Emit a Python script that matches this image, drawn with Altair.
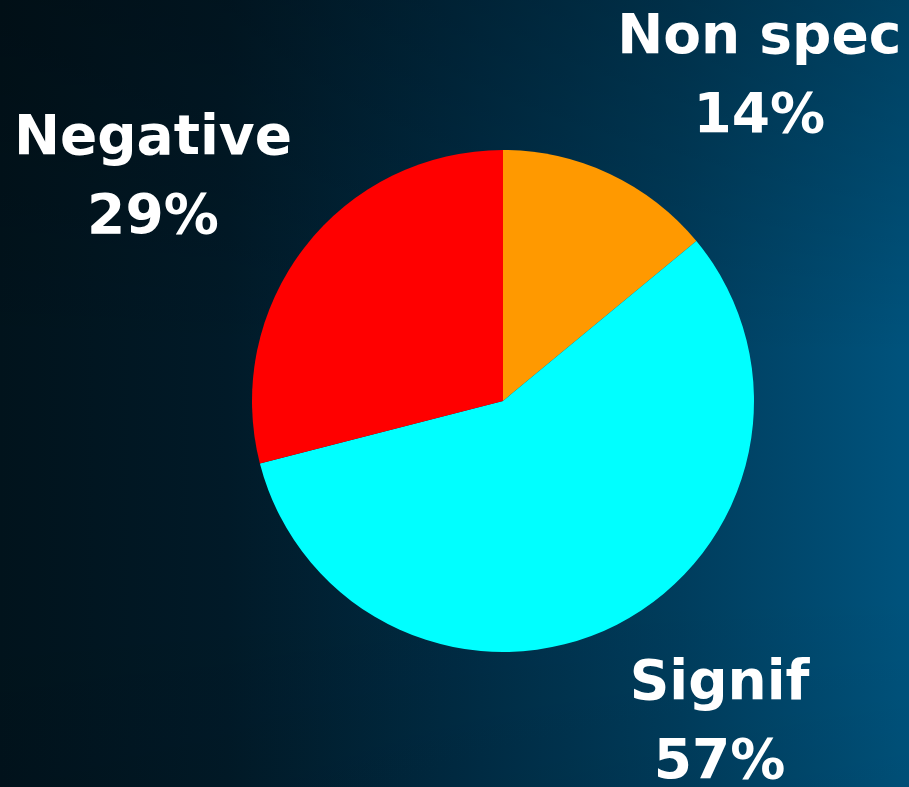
import altair as alt
import pandas as pd
import math

categories = ["Non spec", "Signif", "Negative"]
values = [14, 57, 29]
percent_labels = ["14%", "57%", "29%"]
colors = ["#FF9900", "#00FFFF", "#FF0000"]

df = pd.DataFrame({
    "category": categories,
    "value": values,
    "pct": percent_labels,
    "order": list(range(len(categories))),
})
df["label"] = [[c, p] for c, p in zip(categories, percent_labels)]
total = float(sum(values))

W, H = 909, 787
CX, CY = 503, 401

bg = alt.Chart(pd.DataFrame({"a": [0]})).mark_rect(
    color=alt.Gradient(
        gradient="linear", x1=0, x2=1, y1=0.5, y2=0.5,
        stops=[
            alt.GradientStop(color="#01131c", offset=0),
            alt.GradientStop(color="#011a28", offset=0.25),
            alt.GradientStop(color="#002b43", offset=0.5),
            alt.GradientStop(color="#003d5d", offset=0.75),
            alt.GradientStop(color="#00537d", offset=1),
        ],
    )
).encode(x=alt.value(0), x2=alt.value(W), y=alt.value(0), y2=alt.value(H))

shade = alt.Chart(pd.DataFrame({"a": [0]})).mark_rect(
    color=alt.Gradient(
        gradient="linear", x1=0.5, x2=0.5, y1=0, y2=1,
        stops=[
            alt.GradientStop(color="rgba(0,0,0,0.22)", offset=0),
            alt.GradientStop(color="rgba(0,0,0,0.0)", offset=0.45),
            alt.GradientStop(color="rgba(0,0,0,0.0)", offset=0.75),
            alt.GradientStop(color="rgba(0,0,0,0.05)", offset=1),
        ],
    )
).encode(x=alt.value(0), x2=alt.value(W), y=alt.value(0), y2=alt.value(H))

pie = alt.Chart(df).mark_arc(outerRadius=251).encode(
    theta=alt.Theta("value:Q", stack=True),
    order=alt.Order("order:Q"),
    color=alt.Color("category:N", scale=alt.Scale(domain=categories, range=colors), legend=None),
    x=alt.value(CX),
    y=alt.value(CY),
)

text_base = alt.Chart(df).transform_window(
    cum="sum(value)", sort=[alt.SortField("order")], frame=[None, 0]
).transform_calculate(mid="datum.cum - datum.value / 2")

offsets = {"Non spec": (86, -3), "Signif": (35, -75), "Negative": (-34, -19)}
text_layers = []
for cat in categories:
    dx, dy = offsets[cat]
    t = text_base.transform_filter(alt.datum.category == cat).mark_text(
        radius=400, dx=dx, dy=dy, font="DejaVu Sans", fontWeight="bold", fontSize=55,
        lineHeight=79, color="white", align="center", baseline="middle",
    ).encode(
        theta=alt.Theta("mid:Q", stack=None,
                        scale=alt.Scale(domain=[0, total], range=[0, 2 * math.pi])),
        text="label",
        x=alt.value(CX),
        y=alt.value(CY),
    )
    text_layers.append(t)

chart = alt.layer(bg, shade, pie, *text_layers).properties(
    width=W, height=H, padding=0, autosize=alt.AutoSizeParams(type="none"),
).configure_view(stroke=None).configure(background="#011520")

chart.save("out.html", embed_options={"renderer": "svg", "actions": False})
